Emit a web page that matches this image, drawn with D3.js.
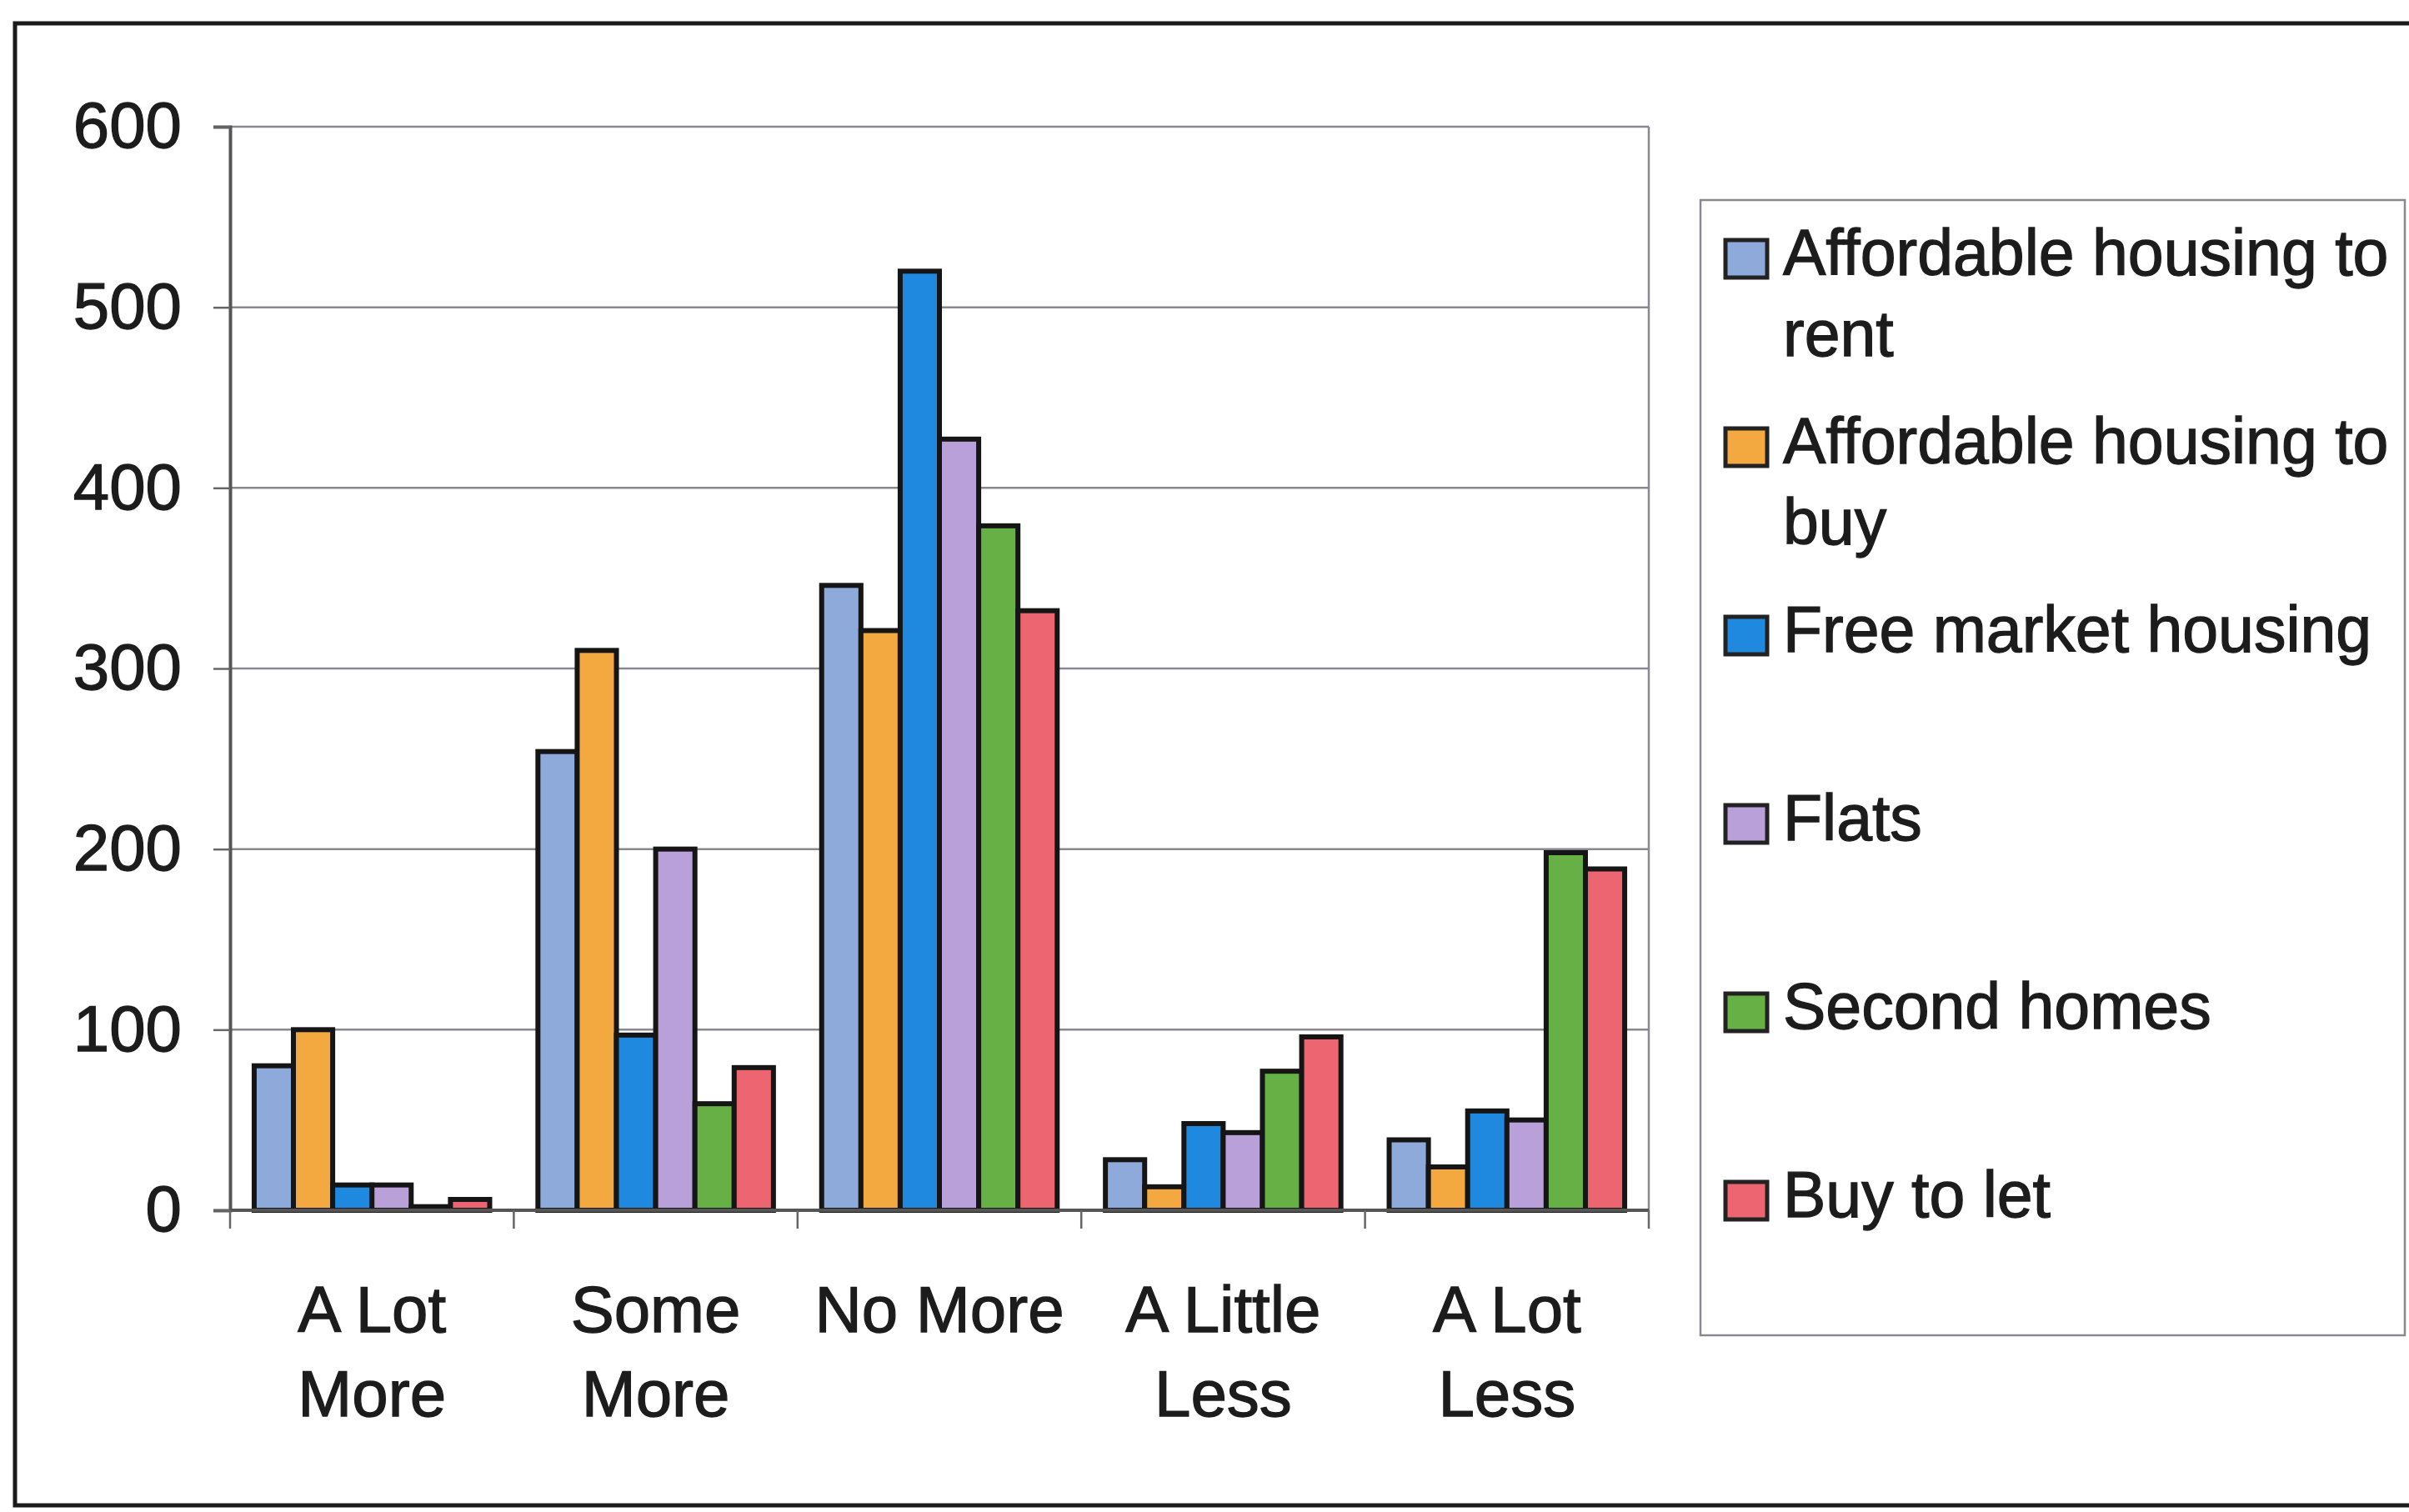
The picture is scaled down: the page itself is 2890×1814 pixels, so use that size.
<!DOCTYPE html>
<html>
<head>
<meta charset="utf-8">
<script src="https://cdn.jsdelivr.net/npm/d3@7"></script>
<style>
  body { margin: 0; background: #fff; }
  text { font-family: "Liberation Sans", Arial, sans-serif; fill: #1c1c1c; stroke: #1c1c1c; stroke-width: 1.3px; }
</style>
</head>
<body>
<div id="chart"></div>
<script>
// categories and series
var categories = ["A Lot More", "Some More", "No More", "A Little Less", "A Lot Less"];
var catLines = [["A Lot", "More"], ["Some", "More"], ["No More"], ["A Little", "Less"], ["A Lot", "Less"]];

var seriesNames = ["Affordable housing to rent", "Affordable housing to buy", "Free market housing", "Flats", "Second homes", "Buy to let"];
var seriesColors = ["#8eaadb", "#f4a840", "#1f88df", "#b9a0d8", "#67b046", "#ec6570"];

var affordableRent = [80, 254, 346, 28, 39];
var affordableBuy  = [100, 310, 321, 13, 24];
var freeMarket     = [14, 97, 520, 48, 55];
var flats          = [14, 200, 427, 43, 50];
var secondHomes    = [2, 59, 379, 77, 198];
var buyToLet       = [6, 79, 332, 96, 189];

var yTicks = [0, 100, 200, 300, 400, 500, 600];

var seriesValues = [affordableRent, affordableBuy, freeMarket, flats, secondHomes, buyToLet];

var W = 2890, H = 1814;
var plot = {left: 276, right: 1978, top: 152, bottom: 1452};

var svg = d3.select("#chart").append("svg")
    .attr("width", W).attr("height", H);

// outer chart border
svg.append("rect")
    .attr("x", 18).attr("y", 28)
    .attr("width", W).attr("height", 1778)
    .attr("fill", "#fff")
    .attr("stroke", "#1a1a1a").attr("stroke-width", 5);

var x0 = d3.scaleBand().domain(categories).range([plot.left, plot.right]).padding(0);
var gap = x0.bandwidth() * 0.085;
var x1 = d3.scaleBand().domain(d3.range(seriesNames.length)).range([gap, x0.bandwidth() - gap]).padding(0);
var y = d3.scaleLinear().domain([0, 600]).range([plot.bottom, plot.top]);

// gridlines
svg.append("g").selectAll("line").data(yTicks.slice(1)).enter().append("line")
    .attr("x1", plot.left).attr("x2", plot.right)
    .attr("y1", function(d) { return y(d); }).attr("y2", function(d) { return y(d); })
    .attr("stroke", "#8a8790").attr("stroke-width", 2.5);

// right border of plot area
svg.append("line")
    .attr("x1", plot.right).attr("x2", plot.right)
    .attr("y1", plot.top).attr("y2", plot.bottom)
    .attr("stroke", "#8a8790").attr("stroke-width", 2.5);

// bars
var groups = svg.append("g").selectAll("g").data(categories).enter().append("g")
    .attr("transform", function(d) { return "translate(" + x0(d) + ",0)"; });

groups.selectAll("rect")
    .data(function(c, ci) { return seriesValues.map(function(vals, si) { return {s: si, v: vals[ci]}; }); })
    .enter().append("rect")
    .attr("x", function(d) { return x1(d.s); })
    .attr("width", x1.bandwidth())
    .attr("y", function(d) { return y(d.v); })
    .attr("height", function(d) { return y(0) - y(d.v); })
    .attr("fill", function(d) { return seriesColors[d.s]; })
    .attr("stroke", "#151515").attr("stroke-width", 6);

// y axis
var yAxis = svg.append("g")
    .attr("transform", "translate(" + plot.left + ",0)")
    .call(d3.axisLeft(y).tickValues(yTicks).tickSize(20).tickPadding(38));
yAxis.select(".domain").attr("stroke", "#555").attr("stroke-width", 4);
yAxis.selectAll(".tick line").attr("stroke", "#666").attr("stroke-width", 2.5);
yAxis.selectAll(".tick text")
    .style("font-size", "78px")
    .style("font-family", "Liberation Sans, Arial, sans-serif")
    .attr("fill", "#1c1c1c");

// x axis line
svg.append("line")
    .attr("x1", plot.left).attr("x2", plot.right)
    .attr("y1", plot.bottom).attr("y2", plot.bottom)
    .attr("stroke", "#555").attr("stroke-width", 4);

// x ticks between categories
var boundaries = categories.map(function(c) { return x0(c); }).concat([plot.right]);
svg.append("g").selectAll("line").data(boundaries).enter().append("line")
    .attr("x1", function(d) { return d; }).attr("x2", function(d) { return d; })
    .attr("y1", plot.bottom).attr("y2", plot.bottom + 22)
    .attr("stroke", "#666").attr("stroke-width", 2.5);

// x labels
var xl = svg.append("g").selectAll("text").data(categories).enter().append("text")
    .attr("x", function(d) { return x0(d) + x0.bandwidth() / 2; })
    .attr("y", 1598)
    .attr("text-anchor", "middle")
    .style("font-size", "78px");
xl.each(function(d, i) {
    var t = d3.select(this);
    catLines[i].forEach(function(line, li) {
        t.append("tspan")
            .attr("x", x0(d) + x0.bandwidth() / 2)
            .attr("dy", li == 0 ? 0 : 101)
            .text(line);
    });
});

// legend
var legend = svg.append("g");
legend.append("rect")
    .attr("x", 2040).attr("y", 240)
    .attr("width", 845).attr("height", 1362)
    .attr("fill", "#fff")
    .attr("stroke", "#8a8790").attr("stroke-width", 2.5);

var maxW = 750;
seriesNames.forEach(function(name, i) {
    var base = 330 + i * 226;
    legend.append("rect")
        .attr("x", 2070).attr("y", base - 42)
        .attr("width", 50).attr("height", 45)
        .attr("fill", seriesColors[i])
        .attr("stroke", "#222").attr("stroke-width", 5);

    var t = legend.append("text")
        .attr("x", 2139).attr("y", base)
        .style("font-size", "77px");

    // simple word wrap
    var words = name.split(" ");
    var line = [];
    var tspan = t.append("tspan").attr("x", 2139).attr("dy", 0);
    words.forEach(function(w) {
        line.push(w);
        tspan.text(line.join(" "));
        if (tspan.node().getComputedTextLength() > maxW && line.length > 1) {
            line.pop();
            tspan.text(line.join(" "));
            line = [w];
            tspan = t.append("tspan").attr("x", 2139).attr("dy", 97).text(w);
        }
    });
});
</script>
</body>
</html>
